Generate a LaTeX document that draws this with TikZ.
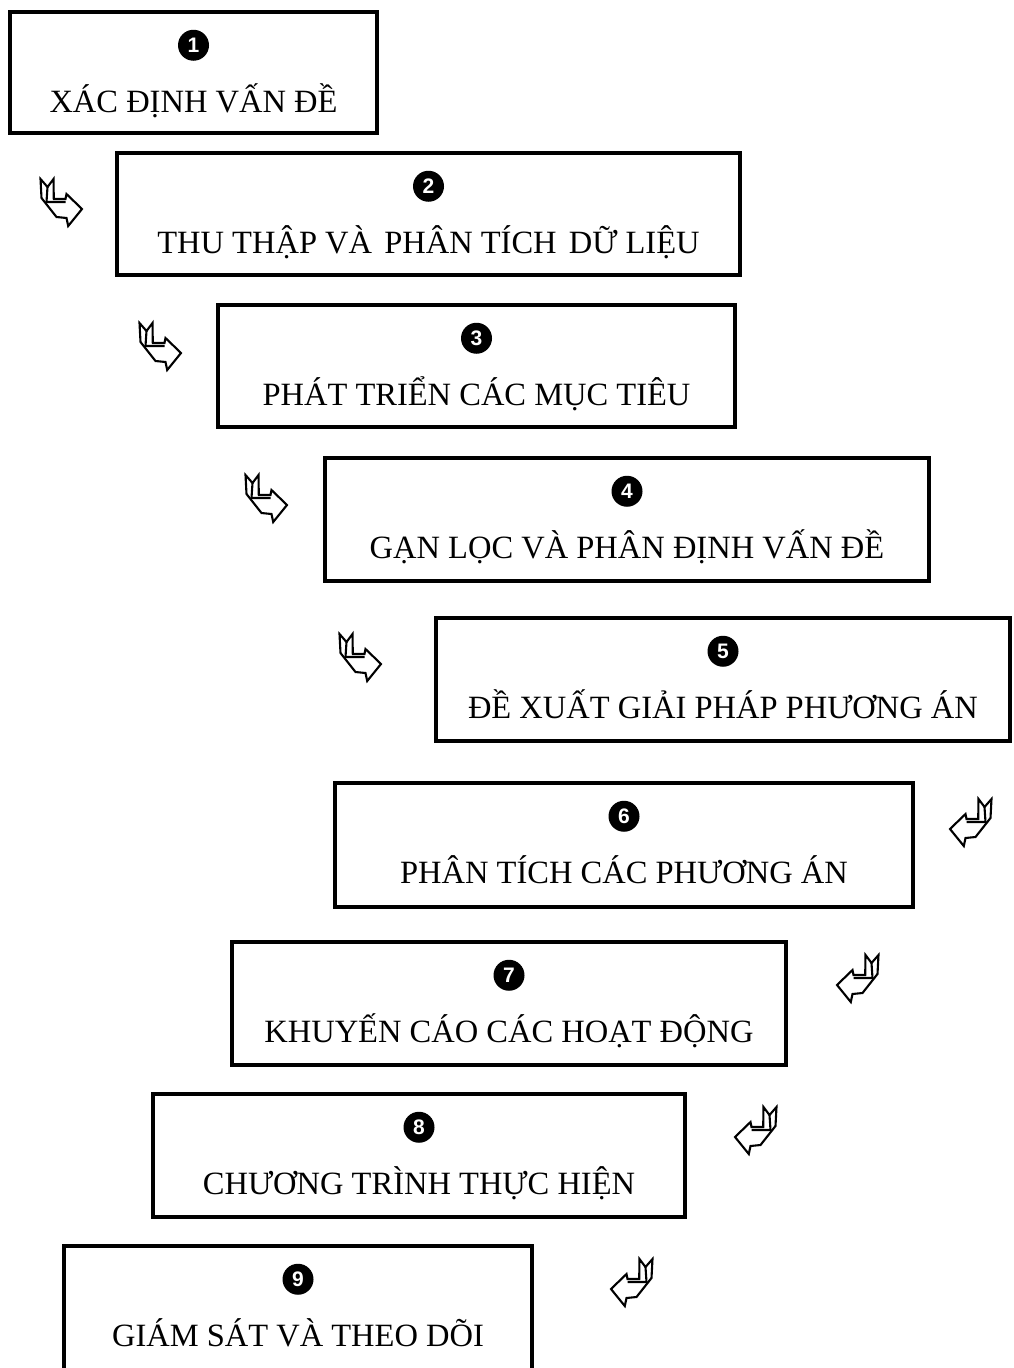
\documentclass[tikz,border=0pt]{standalone}
\usepackage{fontspec}
\setmainfont{Liberation Serif}
\newfontfamily\digitfont{Liberation Sans}
\begin{document}
\begin{tikzpicture}[x=1pt,y=-1pt,
  stepbox/.style={draw=black, line width=3.5pt, rectangle, inner sep=0pt},
  numdot/.style={circle, fill=black, inner sep=0pt, minimum size=31pt,
    text=white, font=\digitfont\bfseries\fontsize{21}{21}\selectfont},
  steptext/.style={anchor=base, inner sep=0pt, font=\fontsize{32.5}{38}\selectfont},
  bentarrow/.pic={
    \draw[line width=2.1pt, line join=miter, fill=white]
      (-20.5,-23) -- (-13.5,-15) -- (-7.5,-23) -- (-7.2,-3) -- (4.5,-3)
      -- (5.5,-8) -- (21,7) -- (7.2,24) -- (5.5,16) -- (-4.5,15)
      -- (-19.5,-4) -- cycle;
    \draw[line width=2.1pt, line join=miter]
      (-13.5,-15) -- (-14.5,0) -- (4.5,0);
  }]
\useasboundingbox (0,0) rectangle (1013,1368);
\clip (0,0) rectangle (1013,1368);

% one step: name, left, top, right, bottom, number, caption
\newcommand{\stepblock}[7]{%
  \node[stepbox, minimum width={#4-#2}, minimum height={#5-#3}]
    (#1) at ({(#2+#4)/2},{(#3+#5)/2}) {};
  \node[numdot] (#1n) at ([yshift=-35pt]#1.north) {#6};
  \node[steptext] (#1t) at ([yshift=-102pt]#1.north) {#7};
}

\stepblock{b1}{10}{12}{377}{133}{1}{XÁC ĐỊNH VẤN ĐỀ}
\stepblock{b2}{117}{153}{740}{275}{2}{THU THẬP VÀ\hspace{4pt} PHÂN TÍCH\hspace{4pt} DỮ LIỆU}
\stepblock{b3}{218}{305}{735}{427}{3}{PHÁT TRIỂN CÁC MỤC TIÊU}
\stepblock{b4}{325}{458}{929}{581}{4}{GẠN LỌC VÀ PHÂN ĐỊNH VẤN ĐỀ}
\stepblock{b5}{436}{618}{1010}{741}{5}{ĐỀ XUẤT GIẢI PHÁP PHƯƠNG ÁN}
\stepblock{b6}{335}{783}{913}{907}{6}{PHÂN TÍCH CÁC PHƯƠNG ÁN}
\stepblock{b7}{232}{942}{786}{1065}{7}{KHUYẾN CÁO CÁC HOẠT ĐỘNG}
\stepblock{b8}{153}{1094}{685}{1217}{8}{CHƯƠNG TRÌNH THỰC HIỆN}
\stepblock{b9}{64}{1246}{532}{1385}{9}{GIÁM SÁT VÀ THEO DÕI}

% bent arrows on the way down: pointing right, then pointing left
\pic at (61,202) {bentarrow};
\pic at (160,346) {bentarrow};
\pic at (266,498) {bentarrow};
\pic at (360,657) {bentarrow};
\pic[xscale=-1] at (971,822) {bentarrow};
\pic[xscale=-1] at (858,978) {bentarrow};
\pic[xscale=-1] at (756,1130) {bentarrow};
\pic[xscale=-1] at (632,1282) {bentarrow};
\end{tikzpicture}
\end{document}
